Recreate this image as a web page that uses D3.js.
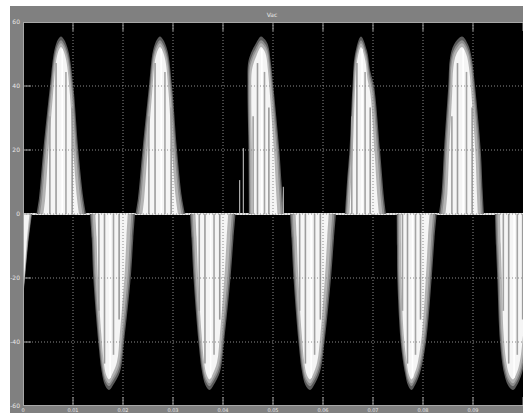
<!DOCTYPE html>
<html><head><meta charset="utf-8">
<script src="https://cdn.jsdelivr.net/npm/d3@7"></script>
<style>body{margin:0;background:#fff;}svg{display:block;}</style>
</head><body>
<svg id="c" width="523" height="413"></svg>
<script>
// ---- data (time in s, voltage in V) ----
const title = "Vac";
const xTicks = [0, 0.01, 0.02, 0.03, 0.04, 0.05, 0.06, 0.07, 0.08, 0.09, 0.1];
const xTickLabels = ["0", "0.01", "0.02", "0.03", "0.04", "0.05", "0.06", "0.07", "0.08", "0.09"];
const yTicks = [60, 40, 20, 0, -20, -40, -60];

const lobeN0 = [[0,0],[0,-26],[0.0004,-20],[0.001,-10],[0.0018,0]];
const lobeP1 = [[0.0027,0],[0.0032,5],[0.00406,20],[0.0054,40],[0.00626,51],[0.007,54.5],[0.0076,55.5],[0.0082,54.5],[0.00906,51],[0.01006,40],[0.01106,20],[0.01206,5],[0.0126,0]];
const lobeN1 = [[0.0134,0],[0.01374,-7.6],[0.01406,-20],[0.01506,-40],[0.01574,-49.3],[0.0164,-53.5],[0.0172,-55],[0.018,-53.5],[0.0194,-49.3],[0.0202,-40],[0.02154,-20],[0.02206,-7.6],[0.0224,0]];
const lobeP2 = [[0.0225,0],[0.023,5],[0.0239,20],[0.0252,40],[0.026,51],[0.0268,54.5],[0.0274,55.5],[0.028,54.5],[0.0289,51],[0.0298,40],[0.0308,20],[0.0318,5],[0.0324,0]];
const lobeN2 = [[0.0334,0],[0.0337,-7.6],[0.0341,-20],[0.0351,-40],[0.0358,-49.3],[0.0365,-53.5],[0.0373,-55],[0.0381,-53.5],[0.0394,-49.3],[0.0402,-40],[0.0415,-20],[0.0421,-7.6],[0.0425,0]];
const lobeP3 = [[0.0452,0],[0.0451,20],[0.0449,40],[0.04506,47.6],[0.0458,51],[0.0464,52.8],[0.0476,55.5],[0.0484,54.5],[0.049,52.8],[0.04954,47.6],[0.05006,40],[0.05126,20],[0.05174,9],[0.0522,0]];
const lobeN3 = [[0.0534,0],[0.0537,-7.6],[0.0541,-20],[0.0551,-40],[0.0558,-49.3],[0.0565,-53.5],[0.0574,-55],[0.0582,-53.5],[0.0594,-49.3],[0.0603,-40],[0.0616,-20],[0.0622,-7.6],[0.0626,0]];
const lobeP4 = [[0.0644,0],[0.0648,10],[0.0653,20],[0.0659,40],[0.0664,50],[0.0676,55.5],[0.0688,51],[0.0694,45],[0.0702,40],[0.0714,20],[0.0722,5],[0.0726,0]];
const lobeN4 = [[0.07474,0],[0.0748,-10],[0.07486,-20],[0.07554,-40],[0.0764,-49.7],[0.077,-53.5],[0.0777,-55],[0.0784,-53.5],[0.0794,-49.7],[0.0806,-40],[0.08174,-20],[0.0823,-7.6],[0.08274,0]];
const lobeP5 = [[0.0832,0],[0.08374,7],[0.0842,20],[0.08506,40],[0.0854,48.7],[0.0862,53],[0.0878,55.5],[0.089,53],[0.08974,48.7],[0.0904,40],[0.09154,20],[0.09194,7],[0.0922,0]];
const lobeN5 = [[0.0944,0],[0.0946,-10],[0.09486,-20],[0.0954,-40],[0.0962,-49.7],[0.097,-53.5],[0.098,-55],[0.0988,-53.5],[0.0998,-49.7],[0.1008,-40],[0.102,-20],[0.1026,-7.6],[0.103,0]];
const spikes = [[0.04334,10.6],[0.04406,20.6],[0.05206,8.5]];

const lobes = [lobeN0, lobeP1, lobeN1, lobeP2, lobeN2, lobeP3, lobeN3, lobeP4, lobeN4, lobeP5, lobeN5];

// ---- drawing ----
const svg = d3.select("#c");
const L = 23, R = 523, T = 22, B = 406;
const x = d3.scaleLinear().domain([0, 0.1]).range([L, R]);
const y = d3.scaleLinear().domain([-60, 60]).range([B, T]);
const font = "DejaVu Sans, Liberation Sans, sans-serif";

svg.append("rect").attr("x", 10).attr("y", 6).attr("width", 513).attr("height", 407).attr("fill", "#808080");
svg.append("rect").attr("x", L).attr("y", T).attr("width", R - L).attr("height", B - T).attr("fill", "#000");

svg.append("defs").append("clipPath").attr("id", "clip")
  .append("rect").attr("x", L).attr("y", T).attr("width", R - L).attr("height", B - T);
const g = svg.append("g").attr("clip-path", "url(#clip)");

// zero level
g.append("line").attr("x1", x(0)).attr("x2", x(0.1)).attr("y1", y(0)).attr("y2", y(0))
  .attr("stroke", "#e4e4e4").attr("stroke-width", 2);

const layers = [
  {k: 1, kv: 1, fill: "#5a5a5a"},
  {k: 0.94, kv: 0.978, fill: "#8e8e8e"},
  {k: 0.86, kv: 0.962, fill: "#b4b4b4"},
  {k: 0.72, kv: 0.94, fill: "#f5f5f5"}
];
const stripeTex = [
  {f: -0.45, h: 0.55, c: "#a0a0a0"},
  {f: -0.2, h: 0.85, c: "#9c9c9c"},
  {f: 0.05, h: 0.93, c: "#ffffff"},
  {f: 0.2, h: 0.8, c: "#a4a4a4"},
  {f: 0.45, h: 0.6, c: "#9a9a9a"}
];

lobes.forEach(lobe => {
  const peak = lobe.reduce((a, b) => Math.abs(b[1]) > Math.abs(a[1]) ? b : a);
  const cx = x(peak[0]);
  layers.forEach(ly => {
    const line = d3.line()
      .x(d => cx + (x(d[0]) - cx) * ly.k)
      .y(d => y(d[1] * ly.kv))
      .curve(d3.curveCatmullRom.alpha(0.5));
    g.append("path").attr("d", line(lobe) + "Z").attr("fill", ly.fill);
  });
  const halfW = (x(lobe[lobe.length - 1][0]) - x(lobe[0][0])) / 2;
  if (halfW > 15) {
    stripeTex.forEach(s => {
      const sx = cx + s.f * halfW;
      g.append("line").attr("x1", sx).attr("x2", sx)
        .attr("y1", y(0)).attr("y2", y(peak[1] * s.h))
        .attr("stroke", s.c).attr("stroke-width", 1.6);
    });
  }
});

spikes.forEach(s => {
  g.append("line").attr("x1", x(s[0])).attr("x2", x(s[0]))
    .attr("y1", y(0)).attr("y2", y(s[1])).attr("stroke", "#cfcfcf").attr("stroke-width", 1);
});

// grid (dotted, drawn over the trace)
xTicks.slice(1, -1).forEach(t => {
  g.append("line").attr("x1", x(t)).attr("x2", x(t)).attr("y1", T).attr("y2", B)
    .attr("stroke", "#8a8a8a").attr("stroke-width", 1).attr("stroke-dasharray", "1,2");
});
yTicks.slice(1, -1).forEach(v => {
  g.append("line").attr("x1", L).attr("x2", R).attr("y1", y(v)).attr("y2", y(v))
    .attr("stroke", "#8a8a8a").attr("stroke-width", 1).attr("stroke-dasharray", "1,2");
});

// inside tick marks
xTicks.forEach(t => {
  g.append("line").attr("x1", x(t)).attr("x2", x(t)).attr("y1", B).attr("y2", B - 9).attr("stroke", "#a0a0a0");
  g.append("line").attr("x1", x(t)).attr("x2", x(t)).attr("y1", T).attr("y2", T + 9).attr("stroke", "#a0a0a0");
});
yTicks.forEach(v => {
  g.append("line").attr("x1", L).attr("x2", L + 8).attr("y1", y(v)).attr("y2", y(v)).attr("stroke", "#a0a0a0");
});

// frame
svg.append("rect").attr("x", L + 0.5).attr("y", T + 0.5).attr("width", R - L).attr("height", B - T - 1)
  .attr("fill", "none").attr("stroke", "#a8a8a8").attr("stroke-width", 1);

// labels
yTicks.forEach(v => {
  svg.append("text").attr("x", L - 3).attr("y", y(v) + 2).attr("text-anchor", "end")
    .attr("font-family", font).attr("font-size", 6).attr("fill", "#e8e8e8").text(v);
});
xTickLabels.forEach((lab, i) => {
  svg.append("text").attr("x", x(xTicks[i])).attr("y", 412).attr("text-anchor", "middle")
    .attr("font-family", font).attr("font-size", 5).attr("fill", "#e8e8e8").text(lab);
});
svg.append("text").attr("x", 272).attr("y", 17).attr("text-anchor", "middle")
  .attr("font-family", font).attr("font-size", 6).attr("fill", "#e8e8e8").text(title);
</script>
</body></html>
